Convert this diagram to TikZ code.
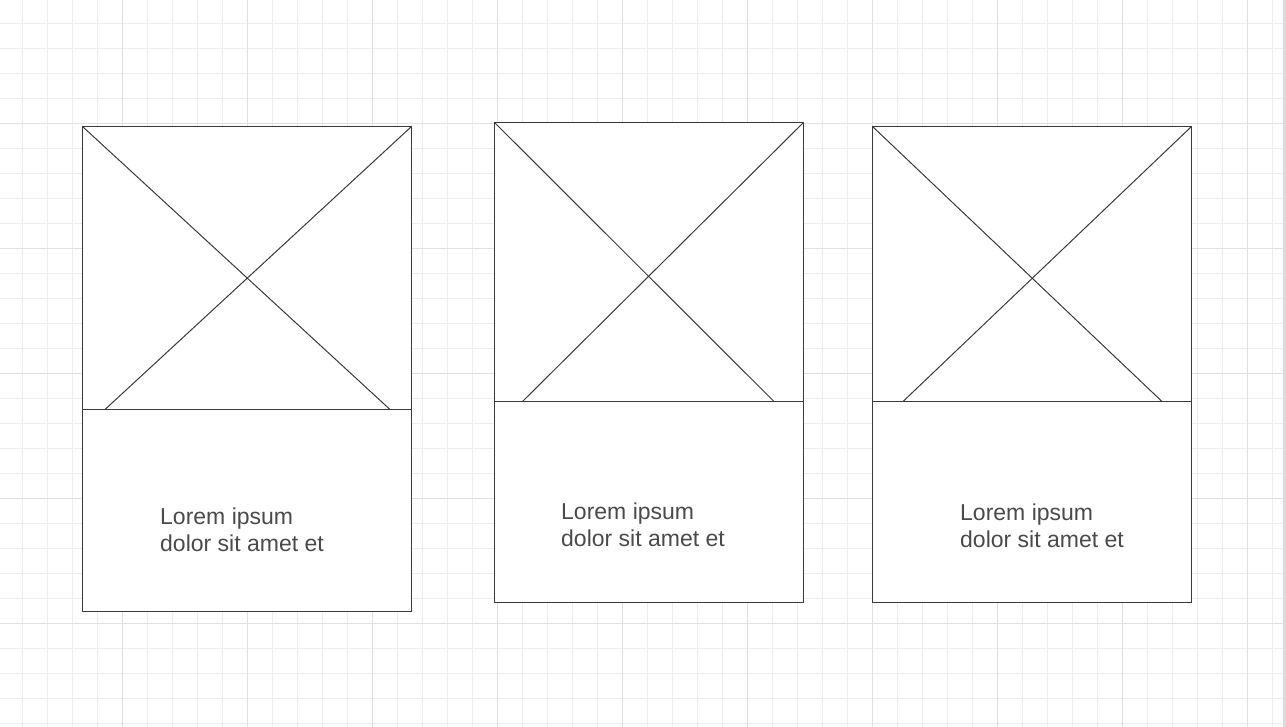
\documentclass[tikz,border=0pt]{standalone}
\usepackage{fontspec}
\setmainfont{Liberation Sans}
\definecolor{minorgrid}{HTML}{EDEDED}
\definecolor{majorgrid}{HTML}{E0E0E0}
\definecolor{ink}{HTML}{3A3A3A}
\definecolor{txt}{HTML}{4A4A4A}
\definecolor{edgebar}{HTML}{DADADA}
\begin{document}
\begin{tikzpicture}[x=1pt,y=-1pt,
  frame/.style={draw=ink,line width=1pt},
  lbl/.style={anchor=base west,inner sep=0pt,text=txt,align=left,
    font=\fontsize{23pt}{27pt}\selectfont}]
\useasboundingbox (0,0) rectangle (1286,727);
\fill[white] (0,0) rectangle (1286,727);
% grid
\foreach \i in {0,...,51} {
  \draw[minorgrid,line width=1pt] ({22.5+25*\i},0) -- ({22.5+25*\i},727);
}
\foreach \i in {0,...,28} {
  \draw[minorgrid,line width=1pt] (0,{23.5+25*\i}) -- (1286,{23.5+25*\i});
}
\foreach \i in {0,...,9} {
  \draw[majorgrid,line width=1pt] ({122.5+125*\i},0) -- ({122.5+125*\i},727);
}
\foreach \i in {0,...,4} {
  \draw[majorgrid,line width=1pt] (0,{123.5+125*\i}) -- (1286,{123.5+125*\i});
}
\fill[edgebar] (1283,0) rectangle (1286,727);
% card 1
\fill[white] (82.5,126.5) rectangle (411.5,611.5);
\draw[frame] (82.5,126.5) rectangle (411.5,611.5);
\draw[frame] (82.5,409.5) -- (411.5,409.5);
\draw[frame] (82.5,126.5) -- (390,409.5);
\draw[frame] (411.5,126.5) -- (105,409.5);
\node[lbl] (t1) at (160,551) {Lorem ipsum\\dolor sit amet et};
% card 2
\fill[white] (494.5,122.5) rectangle (803.5,602.5);
\draw[frame] (494.5,122.5) rectangle (803.5,602.5);
\draw[frame] (494.5,401.5) -- (803.5,401.5);
\draw[frame] (494.5,122.5) -- (774,401.5);
\draw[frame] (803.5,122.5) -- (522.5,401.5);
\node[lbl] (t2) at (561,546) {Lorem ipsum\\dolor sit amet et};
% card 3
\fill[white] (872.5,126.5) rectangle (1191.5,602.5);
\draw[frame] (872.5,126.5) rectangle (1191.5,602.5);
\draw[frame] (872.5,401.5) -- (1191.5,401.5);
\draw[frame] (872.5,126.5) -- (1162,401.5);
\draw[frame] (1191.5,126.5) -- (903,401.5);
\node[lbl] (t3) at (960,547) {Lorem ipsum\\dolor sit amet et};
\end{tikzpicture}
\end{document}
